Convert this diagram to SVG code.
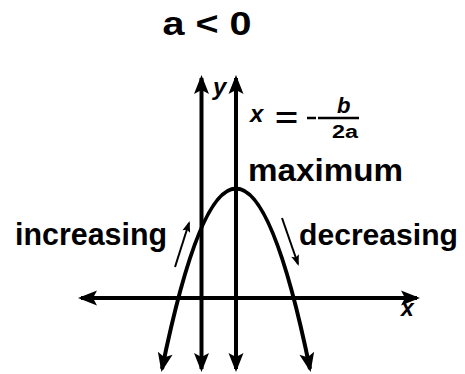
<svg xmlns="http://www.w3.org/2000/svg" width="465" height="374" viewBox="0 0 465 374">
<style>
.t{font-family:"Liberation Sans",Arial,sans-serif;font-weight:bold;fill:#000}
.i{font-style:italic}
.ln{stroke:#000;fill:none;stroke-width:4}
.th{stroke:#000;fill:none;stroke-width:2}
</style>
<defs>
<marker id="ah" markerUnits="userSpaceOnUse" markerWidth="24" markerHeight="20" viewBox="-2 -10 24 20" refX="16" refY="0" orient="auto-start-reverse">
<path d="M0,-7.5 L19,0 L0,7.5 L4,0 z" fill="#000"/>
</marker>
<marker id="ahs" markerUnits="userSpaceOnUse" markerWidth="14" markerHeight="12" viewBox="-1 -6 14 12" refX="9" refY="0" orient="auto">
<path d="M0,-4 L11,0 L0,4 L2,0 z" fill="#000"/>
</marker>
</defs>
<rect width="465" height="374" fill="#fff"/>
<g id="title"><text class="t" x="207" y="35" font-size="33" text-anchor="middle" textLength="89" lengthAdjust="spacingAndGlyphs">a &lt; 0</text></g>
<g id="connectors">
<line id="x-axis" class="ln" x1="81" y1="298" x2="417" y2="298" marker-start="url(#ah)" marker-end="url(#ah)" stroke-width="3.5"/>
<line id="y-axis" class="ln" x1="201.5" y1="78" x2="201.5" y2="369" marker-start="url(#ah)" marker-end="url(#ah)"/>
<line id="symmetry" class="ln" x1="236" y1="78" x2="236" y2="369" marker-start="url(#ah)" marker-end="url(#ah)"/>
<path id="parabola" class="ln" d="M162,369 Q236,8 310,369" marker-start="url(#ah)" marker-end="url(#ah)"/>
<line id="inc-arrow" class="th" x1="175" y1="267" x2="189" y2="223" marker-end="url(#ahs)"/>
<line id="dec-arrow" class="th" x1="282" y1="218" x2="298" y2="264" marker-end="url(#ahs)"/>
</g>
<g id="y-label"><text class="t i" x="213" y="95" font-size="24">y</text></g>
<g id="x-label"><text class="t i" x="401" y="316" font-size="23">x</text></g>
<g id="equation">
<text class="t i" x="250" y="122" font-size="24">x</text>
<text class="t" x="275" y="127" font-size="28" textLength="23" lengthAdjust="spacingAndGlyphs">=</text>
<line x1="307" y1="118" x2="316" y2="118" stroke="#000" stroke-width="2.5"/>
<line x1="318" y1="118" x2="359" y2="118" stroke="#000" stroke-width="2.5"/>
<text class="t i" x="337" y="113" font-size="22">b</text>
<text class="t" x="332" y="138" font-size="18" textLength="26" lengthAdjust="spacingAndGlyphs">2a</text>
</g>
<g id="maximum"><text class="t" x="248" y="181" font-size="32" textLength="155" lengthAdjust="spacingAndGlyphs">maximum</text></g>
<g id="increasing"><text class="t" x="15" y="245" font-size="32" textLength="152" lengthAdjust="spacingAndGlyphs">increasing</text></g>
<g id="decreasing"><text class="t" x="299" y="245" font-size="30" textLength="159" lengthAdjust="spacingAndGlyphs">decreasing</text></g>
</svg>
